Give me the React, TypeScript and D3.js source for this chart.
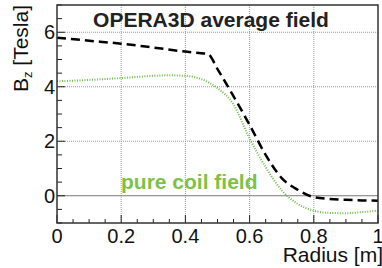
import React, { useRef, useEffect } from "react";
import * as d3 from "d3";

// OPERA3D average field (black dashed)
const operaRadius = [0, 0.1, 0.2, 0.3, 0.4, 0.45, 0.47, 0.5, 0.55, 0.6, 0.65, 0.7, 0.75, 0.8, 0.85, 0.9, 0.95, 1.0];
const operaField = [5.8, 5.69, 5.58, 5.44, 5.29, 5.23, 5.2, 4.65, 3.65, 2.6, 1.5, 0.65, 0.22, -0.05, -0.12, -0.15, -0.17, -0.18];

// pure coil field (green dotted)
const coilRadius = [0, 0.1, 0.2, 0.3, 0.35, 0.4, 0.45, 0.5, 0.55, 0.6, 0.65, 0.7, 0.75, 0.8, 0.85, 0.9, 0.95, 1.0];
const coilField = [4.2, 4.25, 4.32, 4.4, 4.42, 4.4, 4.28, 3.95, 3.35, 2.1, 1.05, 0.2, -0.3, -0.55, -0.63, -0.64, -0.6, -0.55];

const xTicks = [0, 0.2, 0.4, 0.6, 0.8, 1];
const xTickLabels = ["0", "0.2", "0.4", "0.6", "0.8", "1"];
const yTicks = [0, 2, 4, 6];

const App = () => {
  const svgRef = useRef<SVGSVGElement>(null);

  useEffect(() => {
    const svg = d3.select(svgRef.current);
    svg.selectAll("*").remove();

    const width = 382;
    const height = 268;
    const m = { left: 57, right: 4, top: 5, bottom: 45 };
    const font = "'Liberation Sans', Arial, sans-serif";

    const x = d3.scaleLinear().domain([0, 1]).range([m.left, width - m.right]);
    const y = d3.scaleLinear().domain([-1, 7]).range([height - m.bottom, m.top]);

    svg.attr("width", width).attr("height", height);

    // grid
    const grid = svg.append("g");
    grid.selectAll("line.vg")
      .data(xTicks.slice(1, -1))
      .enter().append("line")
      .attr("x1", d => x(d)).attr("x2", d => x(d))
      .attr("y1", y(7)).attr("y2", y(-1))
      .attr("stroke", "#999").attr("stroke-width", 1).attr("stroke-dasharray", "1,1");
    grid.selectAll("line.hg")
      .data([2, 4, 6])
      .enter().append("line")
      .attr("x1", x(0)).attr("x2", x(1))
      .attr("y1", d => y(d)).attr("y2", d => y(d))
      .attr("stroke", "#999").attr("stroke-width", 1).attr("stroke-dasharray", "1,1");
    // zero line
    grid.append("line")
      .attr("x1", x(0)).attr("x2", x(1))
      .attr("y1", y(0)).attr("y2", y(0))
      .attr("stroke", "#777").attr("stroke-width", 1);

    // curves
    const line = d3.line<[number, number]>()
      .x(d => x(d[0])).y(d => y(d[1]))
      .curve(d3.curveMonotoneX);

    svg.append("path")
      .attr("d", line(coilRadius.map((r, i) => [r, coilField[i]] as [number, number])))
      .attr("fill", "none").attr("stroke", "#6dbb45").attr("stroke-width", 2)
      .attr("stroke-dasharray", "1,1.5");

    svg.append("path")
      .attr("d", line(operaRadius.map((r, i) => [r, operaField[i]] as [number, number])))
      .attr("fill", "none").attr("stroke", "#000").attr("stroke-width", 2.5)
      .attr("stroke-dasharray", "9,5");

    // ticks
    const ticks = svg.append("g").attr("stroke", "#222").attr("stroke-width", 1);
    d3.range(0, 1.0001, 0.05).forEach((v, i) => {
      const major = i % 4 === 0;
      ticks.append("line")
        .attr("x1", x(v)).attr("x2", x(v))
        .attr("y1", y(-1)).attr("y2", y(-1) - (major ? 8 : 4));
    });
    d3.range(-1, 7.0001, 0.5).forEach(v => {
      const major = Math.abs(v % 2) < 1e-6;
      ticks.append("line")
        .attr("x1", x(0)).attr("x2", x(0) + (major ? 8 : 5))
        .attr("y1", y(v)).attr("y2", y(v));
    });

    // frame
    svg.append("rect")
      .attr("x", x(0)).attr("y", y(7))
      .attr("width", x(1) - x(0)).attr("height", y(-1) - y(7))
      .attr("fill", "none").attr("stroke", "#333").attr("stroke-width", 1.5);

    // tick labels
    svg.append("g").selectAll("text")
      .data(xTicks)
      .enter().append("text")
      .attr("x", d => x(d)).attr("y", y(-1) + 20)
      .attr("text-anchor", "middle")
      .attr("font-family", font).attr("font-size", 20).attr("fill", "#111")
      .text((d, i) => xTickLabels[i]);

    svg.append("g").selectAll("text")
      .data(yTicks)
      .enter().append("text")
      .attr("x", x(0) - 2).attr("y", d => y(d) + 7)
      .attr("text-anchor", "end")
      .attr("font-family", font).attr("font-size", 20).attr("fill", "#111")
      .text(d => String(d));

    // axis titles
    svg.append("text")
      .attr("x", 383).attr("y", 262)
      .attr("text-anchor", "end")
      .attr("font-family", font).attr("font-size", 21).attr("fill", "#111")
      .text("Radius [m]");

    const yt = svg.append("text")
      .attr("transform", `translate(28,5) rotate(-90)`)
      .attr("text-anchor", "end")
      .attr("font-family", font).attr("font-size", 21).attr("fill", "#111");
    yt.append("tspan").text("B");
    yt.append("tspan").attr("font-size", 13).attr("dy", 4).text("z");
    yt.append("tspan").attr("dy", -4).text(" [Tesla]");

    // labels
    svg.append("text")
      .attr("x", 211).attr("y", 27)
      .attr("text-anchor", "middle")
      .attr("font-family", font).attr("font-size", 21).attr("font-weight", "bold").attr("fill", "#222")
      .text("OPERA3D average field");

    svg.append("text")
      .attr("x", 121).attr("y", 189)
      .attr("font-family", font).attr("font-size", 21).attr("font-weight", "bold").attr("fill", "#7cc243")
      .text("pure coil field");
  }, []);

  return <svg ref={svgRef} style={{ position: "absolute", left: 0, top: 0 }}></svg>;
};

export default App;
